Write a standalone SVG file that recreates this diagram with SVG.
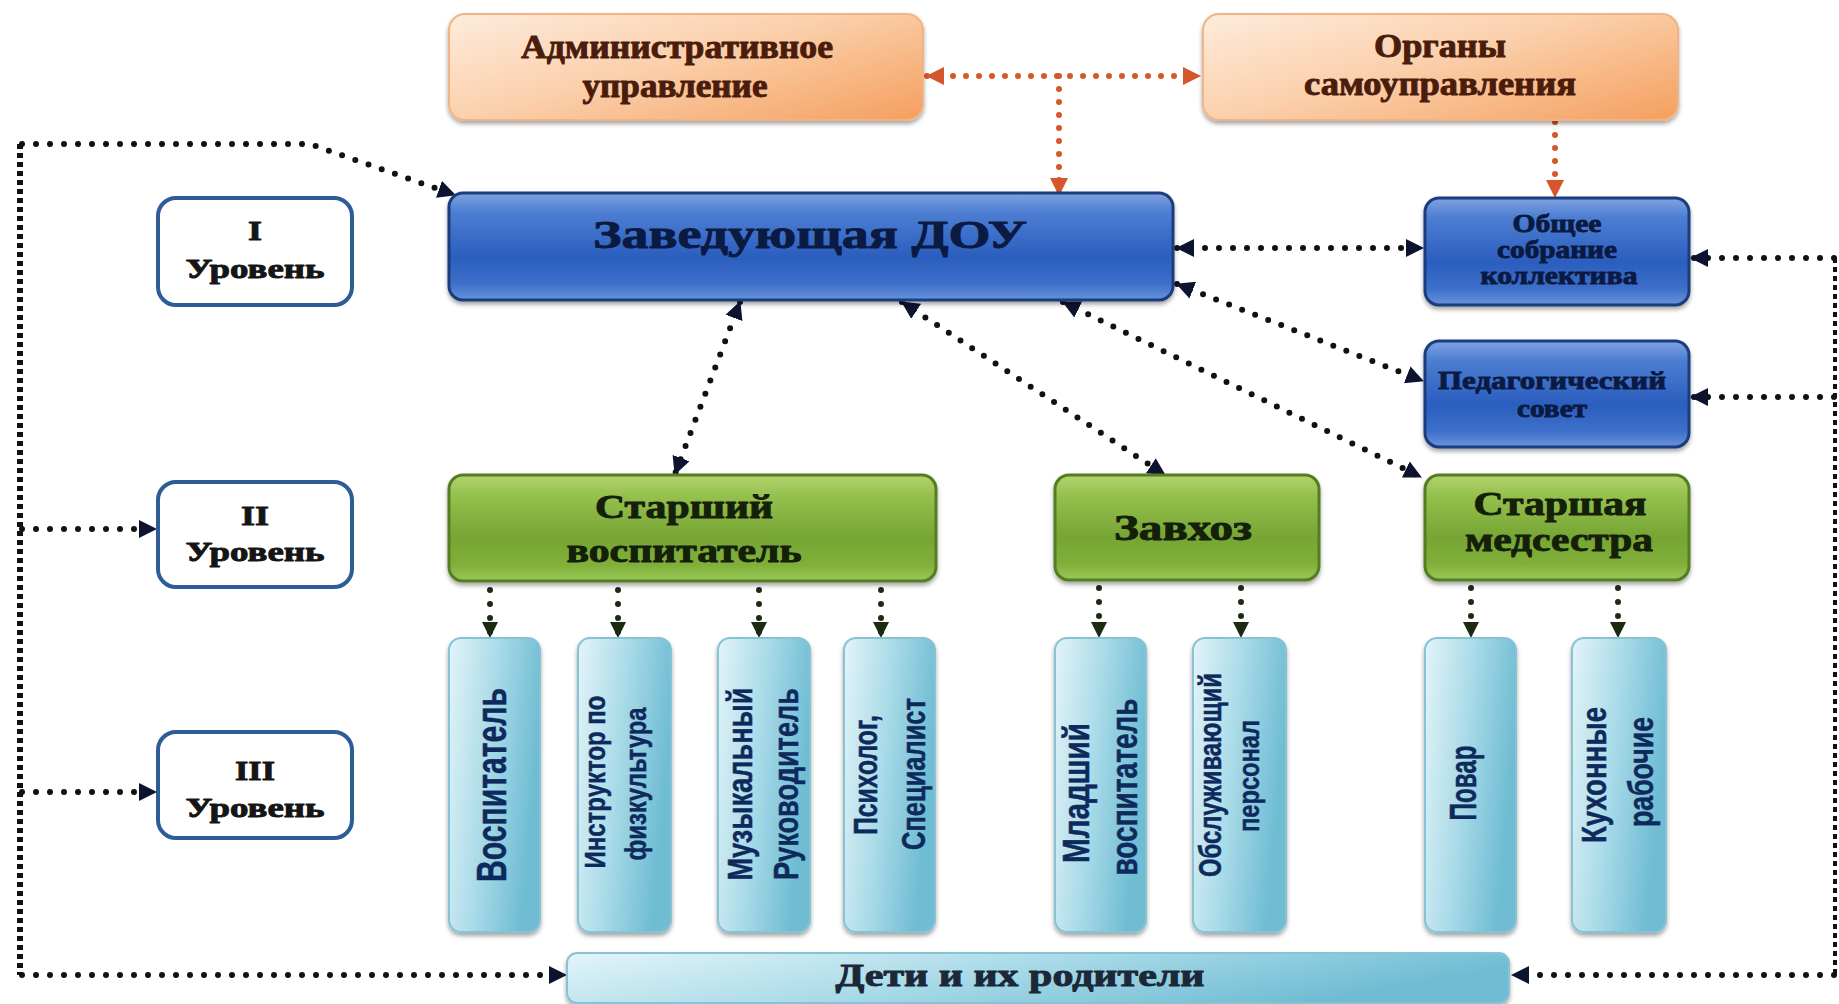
<svg xmlns="http://www.w3.org/2000/svg" width="1839" height="1004" viewBox="0 0 1839 1004">
<style>
.ser{font-family:"Liberation Serif","Times New Roman",serif;font-weight:bold;text-anchor:middle;stroke-width:0.9;stroke-linejoin:round}
.san{font-family:"Liberation Sans",Arial,sans-serif;font-weight:bold;text-anchor:middle;fill:#0e2a5c;stroke:#0e2a5c;stroke-width:0.5}
.or{fill:url(#gOr);stroke:#f0b487;stroke-width:2}
.bl{fill:url(#gBl);stroke:#1d3c7c;stroke-width:3}
.gr{fill:url(#gGr);stroke:#557d22;stroke-width:3}
.lb{fill:url(#gLb);stroke:#86c3d5;stroke-width:2}
.lv{fill:#fff;stroke:#2e5c97;stroke-width:4}
.tOr{fill:#4a1c0c;stroke:#4a1c0c}
.tBl{fill:#0b1a42;stroke:#0b1a42}
.tGr{fill:#14200a;stroke:#14200a}
.tLv{fill:#151515;stroke:#151515}
.tDt{fill:#1b2838;stroke:#1b2838}
.dot{fill:none;stroke:#111;stroke-width:6;stroke-linecap:round;stroke-dasharray:0 14}
.odot{fill:none;stroke:#d4582a;stroke-width:6;stroke-linecap:round;stroke-dasharray:0 13}
.gdot{fill:none;stroke:#1d2a12;stroke-width:6;stroke-linecap:round;stroke-dasharray:0 14}
.vl{fill:none;stroke:#111;stroke-width:6;stroke-dasharray:5 4}
.vr{fill:none;stroke:#111;stroke-width:4;stroke-dasharray:5 4}
</style>
<defs>
<linearGradient id="gOr" x1="0" y1="0.1" x2="1" y2="0.9">
<stop offset="0" stop-color="#fde9d8"/><stop offset="0.45" stop-color="#fbd0ac"/><stop offset="1" stop-color="#f5a364"/>
</linearGradient>
<linearGradient id="gBl" x1="0" y1="0" x2="0" y2="1">
<stop offset="0" stop-color="#7fa3e2"/><stop offset="0.18" stop-color="#4d7ed2"/><stop offset="0.6" stop-color="#2b5ebf"/><stop offset="0.85" stop-color="#3d6fc9"/><stop offset="1" stop-color="#6a93da"/>
</linearGradient>
<linearGradient id="gGr" x1="0" y1="0" x2="0" y2="1">
<stop offset="0" stop-color="#b3d36e"/><stop offset="0.2" stop-color="#95c04d"/><stop offset="0.6" stop-color="#76a534"/><stop offset="0.85" stop-color="#80b03a"/><stop offset="1" stop-color="#9bc85a"/>
</linearGradient>
<linearGradient id="gLb" x1="0" y1="0" x2="1" y2="0.3">
<stop offset="0" stop-color="#e3f4f9"/><stop offset="0.5" stop-color="#aadbe8"/><stop offset="1" stop-color="#6fbcd3"/>
</linearGradient>
<filter id="sh" x="-5%" y="-10%" width="110%" height="130%">
<feDropShadow dx="0" dy="3" stdDeviation="2" flood-color="#000" flood-opacity="0.35"/>
</filter>
<marker id="aB" viewBox="0 0 18 18" refX="17" refY="9" markerWidth="18" markerHeight="18" markerUnits="userSpaceOnUse" orient="auto-start-reverse">
<path d="M0,0 L18,9 L0,18 z" fill="#0d1430"/>
</marker>
<marker id="aO" viewBox="0 0 18 18" refX="17" refY="9" markerWidth="18" markerHeight="18" markerUnits="userSpaceOnUse" orient="auto-start-reverse">
<path d="M0,0 L18,9 L0,18 z" fill="#d4562a"/>
</marker>
<marker id="aG" viewBox="0 0 16 16" refX="15" refY="8" markerWidth="16" markerHeight="16" markerUnits="userSpaceOnUse" orient="auto">
<path d="M0,0 L16,8 L0,16 z" fill="#1d2a12"/>
</marker>
</defs>
<rect width="1839" height="1004" fill="#ffffff"/>

<g id="connectors">
<path class="odot" d="M927,76 H1200" marker-start="url(#aO)" marker-end="url(#aO)"/>
<path class="odot" d="M1059,76 V195" marker-end="url(#aO)"/>
<path class="odot" d="M1555,122 V197" marker-end="url(#aO)"/>
<path class="dot" d="M1177,248 H1423" marker-start="url(#aB)" marker-end="url(#aB)"/>
<path class="dot" d="M22,144 H310 L455,195" marker-end="url(#aB)"/>
<path class="vl" d="M20,144 V975"/>
<path class="dot" d="M22,975 H566" marker-end="url(#aB)"/>
<path class="dot" d="M22,529 H156" marker-end="url(#aB)"/>
<path class="dot" d="M22,792 H156" marker-end="url(#aB)"/>
<path class="vr" d="M1835,258 V975"/>
<path class="dot" d="M1834,258 H1691" marker-end="url(#aB)"/>
<path class="dot" d="M1834,397 H1691" marker-end="url(#aB)"/>
<path class="dot" d="M1834,975 H1512" marker-end="url(#aB)"/>
<path class="dot" d="M740,302 L675,474" marker-start="url(#aB)" marker-end="url(#aB)"/>
<path class="dot" d="M902,302 L1165,475" marker-start="url(#aB)" marker-end="url(#aB)"/>
<path class="dot" d="M1063,302 L1421,477" marker-start="url(#aB)" marker-end="url(#aB)"/>
<path class="dot" d="M1177,284 L1423,381" marker-start="url(#aB)" marker-end="url(#aB)"/>
<path class="gdot" d="M490,590 V637" marker-end="url(#aG)"/>
<path class="gdot" d="M618,590 V637" marker-end="url(#aG)"/>
<path class="gdot" d="M759,590 V637" marker-end="url(#aG)"/>
<path class="gdot" d="M881,590 V637" marker-end="url(#aG)"/>
<path class="gdot" d="M1099,588 V637" marker-end="url(#aG)"/>
<path class="gdot" d="M1241,588 V637" marker-end="url(#aG)"/>
<path class="gdot" d="M1471,588 V637" marker-end="url(#aG)"/>
<path class="gdot" d="M1618,588 V637" marker-end="url(#aG)"/>
</g>

<g id="admin">
<rect class="or" x="449" y="14" width="474" height="106" rx="16" filter="url(#sh)"/>
<text class="ser tOr" x="677" y="58" font-size="33" textLength="312" lengthAdjust="spacingAndGlyphs">Административное</text>
<text class="ser tOr" x="675" y="97" font-size="33" textLength="185" lengthAdjust="spacingAndGlyphs">управление</text>
</g>
<g id="organy">
<rect class="or" x="1203" y="14" width="475" height="106" rx="16" filter="url(#sh)"/>
<text class="ser tOr" x="1440" y="57" font-size="33" textLength="132" lengthAdjust="spacingAndGlyphs">Органы</text>
<text class="ser tOr" x="1440" y="95" font-size="33" textLength="272" lengthAdjust="spacingAndGlyphs">самоуправления</text>
</g>
<g id="zaved">
<rect class="bl" x="449" y="193" width="724" height="107" rx="14" filter="url(#sh)"/>
<text class="ser tBl" x="810" y="248" font-size="41" textLength="434" lengthAdjust="spacingAndGlyphs">Заведующая ДОУ</text>
</g>
<g id="obshchee">
<rect class="bl" x="1425" y="198" width="264" height="107" rx="14" filter="url(#sh)"/>
<text class="ser tBl" x="1557" y="232" font-size="25" textLength="89" lengthAdjust="spacingAndGlyphs">Общее</text>
<text class="ser tBl" x="1557" y="258" font-size="25" textLength="120" lengthAdjust="spacingAndGlyphs">собрание</text>
<text class="ser tBl" x="1559" y="284" font-size="25" textLength="157" lengthAdjust="spacingAndGlyphs">коллектива</text>
</g>
<g id="pedsovet">
<rect class="bl" x="1425" y="341" width="264" height="106" rx="14" filter="url(#sh)"/>
<text class="ser tBl" x="1552" y="389" font-size="25" textLength="228" lengthAdjust="spacingAndGlyphs">Педагогический</text>
<text class="ser tBl" x="1552" y="417" font-size="25" textLength="70" lengthAdjust="spacingAndGlyphs">совет</text>
</g>
<g id="level1">
<rect class="lv" x="158" y="198" width="194" height="107" rx="18"/>
<text class="ser tLv" x="255" y="240" font-size="28" textLength="14" lengthAdjust="spacingAndGlyphs">I</text>
<text class="ser tLv" x="255" y="278" font-size="28" textLength="139" lengthAdjust="spacingAndGlyphs">Уровень</text>
</g>
<g id="level2">
<rect class="lv" x="158" y="482" width="194" height="105" rx="18"/>
<text class="ser tLv" x="255" y="525" font-size="28" textLength="28" lengthAdjust="spacingAndGlyphs">II</text>
<text class="ser tLv" x="255" y="561" font-size="28" textLength="139" lengthAdjust="spacingAndGlyphs">Уровень</text>
</g>
<g id="level3">
<rect class="lv" x="158" y="732" width="194" height="106" rx="18"/>
<text class="ser tLv" x="255" y="780" font-size="28" textLength="40" lengthAdjust="spacingAndGlyphs">III</text>
<text class="ser tLv" x="255" y="817" font-size="28" textLength="139" lengthAdjust="spacingAndGlyphs">Уровень</text>
</g>
<g id="starshiy">
<rect class="gr" x="449" y="475" width="487" height="106" rx="14" filter="url(#sh)"/>
<text class="ser tGr" x="684" y="518" font-size="33" textLength="178" lengthAdjust="spacingAndGlyphs">Старший</text>
<text class="ser tGr" x="684" y="562" font-size="33" textLength="235" lengthAdjust="spacingAndGlyphs">воспитатель</text>
</g>
<g id="zavhoz">
<rect class="gr" x="1055" y="475" width="264" height="105" rx="14" filter="url(#sh)"/>
<text class="ser tGr" x="1183" y="540" font-size="36" textLength="138" lengthAdjust="spacingAndGlyphs">Завхоз</text>
</g>
<g id="medsestra">
<rect class="gr" x="1425" y="475" width="264" height="105" rx="14" filter="url(#sh)"/>
<text class="ser tGr" x="1560" y="515" font-size="34" textLength="173" lengthAdjust="spacingAndGlyphs">Старшая</text>
<text class="ser tGr" x="1559" y="551" font-size="34" textLength="188" lengthAdjust="spacingAndGlyphs">медсестра</text>
</g>

<g id="vospitatel">
<rect class="lb" x="449" y="638" width="91" height="294" rx="12" filter="url(#sh)"/>
<text class="san" font-size="42" textLength="194" lengthAdjust="spacingAndGlyphs" transform="translate(506,785) rotate(-90)">Воспитатель</text>
</g>
<g id="instruktor">
<rect class="lb" x="578" y="638" width="93" height="294" rx="12" filter="url(#sh)"/>
<text class="san" font-size="30" textLength="173" lengthAdjust="spacingAndGlyphs" transform="translate(605,782) rotate(-90)">Инструктор по</text>
<text class="san" font-size="30" textLength="153" lengthAdjust="spacingAndGlyphs" transform="translate(646,784) rotate(-90)">физкультура</text>
</g>
<g id="muzyk">
<rect class="lb" x="718" y="638" width="92" height="294" rx="12" filter="url(#sh)"/>
<text class="san" font-size="35" textLength="193" lengthAdjust="spacingAndGlyphs" transform="translate(752,784) rotate(-90)">Музыкальный</text>
<text class="san" font-size="35" textLength="192" lengthAdjust="spacingAndGlyphs" transform="translate(798,784) rotate(-90)">Руководитель</text>
</g>
<g id="psiholog">
<rect class="lb" x="844" y="638" width="91" height="294" rx="12" filter="url(#sh)"/>
<text class="san" font-size="34" textLength="120" lengthAdjust="spacingAndGlyphs" transform="translate(877,775) rotate(-90)">Психолог,</text>
<text class="san" font-size="34" textLength="152" lengthAdjust="spacingAndGlyphs" transform="translate(925,774) rotate(-90)">Специалист</text>
</g>
<g id="mladshiy">
<rect class="lb" x="1055" y="638" width="91" height="294" rx="12" filter="url(#sh)"/>
<text class="san" font-size="37" textLength="140" lengthAdjust="spacingAndGlyphs" transform="translate(1089,793) rotate(-90)">Младший</text>
<text class="san" font-size="37" textLength="177" lengthAdjust="spacingAndGlyphs" transform="translate(1137,787) rotate(-90)">воспитатель</text>
</g>
<g id="obsluzh">
<rect class="lb" x="1193" y="638" width="93" height="294" rx="12" filter="url(#sh)"/>
<text class="san" font-size="31" textLength="204" lengthAdjust="spacingAndGlyphs" transform="translate(1221,775) rotate(-90)">Обслуживающий</text>
<text class="san" font-size="30" textLength="112" lengthAdjust="spacingAndGlyphs" transform="translate(1259,776) rotate(-90)">персонал</text>
</g>
<g id="povar">
<rect class="lb" x="1425" y="638" width="91" height="294" rx="12" filter="url(#sh)"/>
<text class="san" font-size="37" textLength="75" lengthAdjust="spacingAndGlyphs" transform="translate(1476,783) rotate(-90)">Повар</text>
</g>
<g id="kuhonnye">
<rect class="lb" x="1572" y="638" width="94" height="294" rx="12" filter="url(#sh)"/>
<text class="san" font-size="35" textLength="136" lengthAdjust="spacingAndGlyphs" transform="translate(1606,775) rotate(-90)">Кухонные</text>
<text class="san" font-size="35" textLength="110" lengthAdjust="spacingAndGlyphs" transform="translate(1653,772) rotate(-90)">рабочие</text>
</g>
<g id="deti">
<rect class="lb" x="567" y="953" width="942" height="50" rx="10" filter="url(#sh)"/>
<text class="ser tDt" x="1020" y="986" font-size="31" textLength="369" lengthAdjust="spacingAndGlyphs">Дети и их родители</text>
</g>
</svg>
